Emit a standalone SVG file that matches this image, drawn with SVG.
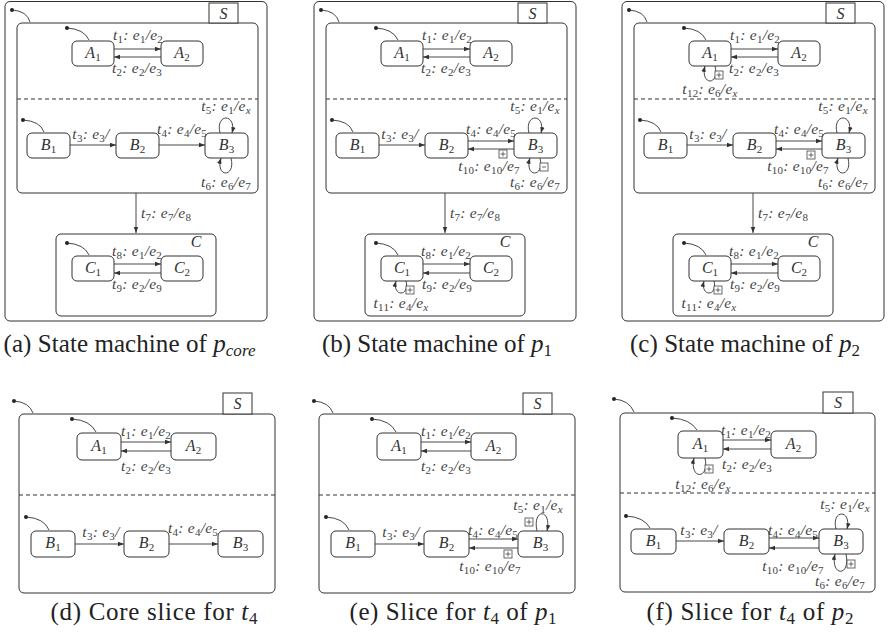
<svg xmlns="http://www.w3.org/2000/svg" xmlns:xlink="http://www.w3.org/1999/xlink" width="888" height="637" viewBox="0 0 888 637">
<style>
.bx{fill:#fff;stroke:#333;stroke-width:1}
.st{fill:#fff;stroke:#333;stroke-width:1}
.ln{fill:none;stroke:#333;stroke-width:0.9}
.ar{fill:none;stroke:#333;stroke-width:0.9;marker-end:url(#ah)}
.dl{fill:none;stroke:#333;stroke-width:1;stroke-dasharray:4,3}
.dot{fill:#222}
.tl{font-family:"Liberation Serif",serif;font-style:italic;font-size:15.5px;letter-spacing:0.25px;fill:#444;text-anchor:middle}
.ls{text-anchor:start}
.sl{font-family:"Liberation Serif",serif;font-style:italic;font-size:16px;fill:#333;text-anchor:middle}
.n{font-style:normal;font-size:11px}
.i{font-style:italic;font-size:11px}
.cap{font-family:"Liberation Serif",serif;font-size:25px;fill:#222;text-anchor:middle}
.cn{font-style:normal;font-size:17px}
.ci{font-style:italic}
.pb{fill:#fff;stroke:#444;stroke-width:0.8}
.pl{fill:none;stroke:#444;stroke-width:0.8}
</style>
<defs>
<marker id="ah" markerUnits="userSpaceOnUse" markerWidth="7" markerHeight="6" refX="6" refY="3" orient="auto"><path d="M0,0.8 L6,3 L0,5.2 z" fill="#333"/></marker>
<g id="plus"><rect class="pb" x="0" y="0" width="8" height="8"/><path class="pl" d="M4,1.5V6.5M1.5,4H6.5"/></g>
<g id="minus"><rect class="pb" x="0" y="0" width="8" height="8"/><path class="pl" d="M2,4H6"/></g>
</defs>
<rect width="888" height="637" fill="#fff"/>

<!-- ===== Panel (a) ===== -->
<g id="panel-a">
<g id="a-frame"><rect class="bx" x="5" y="1.5" width="262" height="319.5" rx="5"/></g>
<g id="a-S"><rect class="bx" x="17" y="23" width="241" height="170" rx="5"/><path class="dl" d="M17,99H258"/><rect class="bx" x="209" y="3" width="29" height="20"/><text class="sl" x="223.5" y="18.5">S</text></g>
<g id="a-A1"><rect class="st" x="72" y="41" width="42" height="25" rx="5"/><text class="sl" x="93" y="58">A<tspan class="n" dy="3">1</tspan></text></g>
<g id="a-A2"><rect class="st" x="161" y="41" width="42" height="25" rx="5"/><text class="sl" x="182" y="58">A<tspan class="n" dy="3">2</tspan></text></g>
<g id="a-B1"><rect class="st" x="27" y="133" width="43" height="25" rx="5"/><text class="sl" x="48.5" y="150">B<tspan class="n" dy="3">1</tspan></text></g>
<g id="a-B2"><rect class="st" x="116" y="133" width="43" height="25" rx="5"/><text class="sl" x="137.5" y="150">B<tspan class="n" dy="3">2</tspan></text></g>
<g id="a-B3"><rect class="st" x="205" y="133" width="43" height="25" rx="5"/><text class="sl" x="226.5" y="150">B<tspan class="n" dy="3">3</tspan></text></g>
<g id="a-C"><rect class="bx" x="56" y="234" width="160" height="82" rx="5"/><text class="sl" x="196" y="247">C</text></g>
<g id="a-C1"><rect class="st" x="72" y="256" width="42" height="25" rx="5"/><text class="sl" x="93" y="273">C<tspan class="n" dy="3">1</tspan></text></g>
<g id="a-C2"><rect class="st" x="161" y="256" width="42" height="25" rx="5"/><text class="sl" x="182" y="273">C<tspan class="n" dy="3">2</tspan></text></g>
<g id="a-edges">
<circle class="dot" cx="12" cy="10" r="2"/><path class="ln" d="M12,10Q27,11 30,22"/>
<circle class="dot" cx="67" cy="28" r="2"/><path class="ln" d="M67,28Q84,29 89,40"/>
<circle class="dot" cx="23" cy="120" r="2"/><path class="ln" d="M23,120Q40,121 44,132"/>
<circle class="dot" cx="67" cy="243" r="2"/><path class="ln" d="M67,243Q84,244 89,255"/>
<path class="ar" d="M114,49H161"/><text class="tl" x="138" y="40">t<tspan class="n" dy="3">1</tspan><tspan dy="-3">: e</tspan><tspan class="n" dy="3">1</tspan><tspan dy="-3">/e</tspan><tspan class="n" dy="3">2</tspan></text>
<path class="ar" d="M161,57H114"/><text class="tl" x="137" y="73">t<tspan class="n" dy="3">2</tspan><tspan dy="-3">: e</tspan><tspan class="n" dy="3">2</tspan><tspan dy="-3">/e</tspan><tspan class="n" dy="3">3</tspan></text>
<path class="ar" d="M70,145H116"/><text class="tl" x="91" y="139">t<tspan class="n" dy="3">3</tspan><tspan dy="-3">: e</tspan><tspan class="n" dy="3">3</tspan><tspan dy="-3">/</tspan></text>
<path class="ar" d="M159,145H205"/><text class="tl" x="182" y="134">t<tspan class="n" dy="3">4</tspan><tspan dy="-3">: e</tspan><tspan class="n" dy="3">4</tspan><tspan dy="-3">/e</tspan><tspan class="n" dy="3">5</tspan></text>
<path class="ar" d="M220,133C215,113 237,113 232,133"/><text class="tl" x="226" y="111">t<tspan class="n" dy="3">5</tspan><tspan dy="-3">: e</tspan><tspan class="n" dy="3">1</tspan><tspan dy="-3">/e</tspan><tspan class="i" dy="3">x</tspan></text>
<path class="ar" d="M231,158C236,178 215,178 221,158"/><text class="tl" x="226" y="187">t<tspan class="n" dy="3">6</tspan><tspan dy="-3">: e</tspan><tspan class="n" dy="3">6</tspan><tspan dy="-3">/e</tspan><tspan class="n" dy="3">7</tspan></text>
<path class="ar" d="M136,193V233"/><text class="tl ls" x="141" y="218">t<tspan class="n" dy="3">7</tspan><tspan dy="-3">: e</tspan><tspan class="n" dy="3">7</tspan><tspan dy="-3">/e</tspan><tspan class="n" dy="3">8</tspan></text>
<path class="ar" d="M114,264H161"/><text class="tl" x="137" y="256">t<tspan class="n" dy="3">8</tspan><tspan dy="-3">: e</tspan><tspan class="n" dy="3">1</tspan><tspan dy="-3">/e</tspan><tspan class="n" dy="3">2</tspan></text>
<path class="ar" d="M161,273H114"/><text class="tl" x="137" y="289">t<tspan class="n" dy="3">9</tspan><tspan dy="-3">: e</tspan><tspan class="n" dy="3">2</tspan><tspan dy="-3">/e</tspan><tspan class="n" dy="3">9</tspan></text>
</g>
<text class="cap" x="129.5" y="352" textLength="252" lengthAdjust="spacing">(a) State machine of <tspan class="ci">p</tspan><tspan class="ci cn" dy="4">core</tspan></text>
</g>

<!-- ===== Panel (b) ===== -->
<g id="panel-b" transform="translate(309,0)">
<g id="b-frame"><rect class="bx" x="5" y="1.5" width="262" height="319.5" rx="5"/></g>
<g id="b-S"><rect class="bx" x="17" y="23" width="241" height="170" rx="5"/><path class="dl" d="M17,99H258"/><rect class="bx" x="209" y="3" width="29" height="20"/><text class="sl" x="223.5" y="18.5">S</text></g>
<g id="b-A1"><rect class="st" x="72" y="41" width="42" height="25" rx="5"/><text class="sl" x="93" y="58">A<tspan class="n" dy="3">1</tspan></text></g>
<g id="b-A2"><rect class="st" x="161" y="41" width="42" height="25" rx="5"/><text class="sl" x="182" y="58">A<tspan class="n" dy="3">2</tspan></text></g>
<g id="b-B1"><rect class="st" x="27" y="133" width="43" height="25" rx="5"/><text class="sl" x="48.5" y="150">B<tspan class="n" dy="3">1</tspan></text></g>
<g id="b-B2"><rect class="st" x="116" y="133" width="43" height="25" rx="5"/><text class="sl" x="137.5" y="150">B<tspan class="n" dy="3">2</tspan></text></g>
<g id="b-B3"><rect class="st" x="205" y="133" width="43" height="25" rx="5"/><text class="sl" x="226.5" y="150">B<tspan class="n" dy="3">3</tspan></text></g>
<g id="b-C"><rect class="bx" x="56" y="234" width="160" height="82" rx="5"/><text class="sl" x="196" y="247">C</text></g>
<g id="b-C1"><rect class="st" x="72" y="256" width="42" height="25" rx="5"/><text class="sl" x="93" y="273">C<tspan class="n" dy="3">1</tspan></text></g>
<g id="b-C2"><rect class="st" x="161" y="256" width="42" height="25" rx="5"/><text class="sl" x="182" y="273">C<tspan class="n" dy="3">2</tspan></text></g>
<g id="b-edges">
<circle class="dot" cx="12" cy="10" r="2"/><path class="ln" d="M12,10Q27,11 30,22"/>
<circle class="dot" cx="67" cy="28" r="2"/><path class="ln" d="M67,28Q84,29 89,40"/>
<circle class="dot" cx="23" cy="120" r="2"/><path class="ln" d="M23,120Q40,121 44,132"/>
<circle class="dot" cx="67" cy="243" r="2"/><path class="ln" d="M67,243Q84,244 89,255"/>
<path class="ar" d="M114,49H161"/><text class="tl" x="138" y="40">t<tspan class="n" dy="3">1</tspan><tspan dy="-3">: e</tspan><tspan class="n" dy="3">1</tspan><tspan dy="-3">/e</tspan><tspan class="n" dy="3">2</tspan></text>
<path class="ar" d="M161,57H114"/><text class="tl" x="137" y="73">t<tspan class="n" dy="3">2</tspan><tspan dy="-3">: e</tspan><tspan class="n" dy="3">2</tspan><tspan dy="-3">/e</tspan><tspan class="n" dy="3">3</tspan></text>
<path class="ar" d="M70,145H116"/><text class="tl" x="91" y="139">t<tspan class="n" dy="3">3</tspan><tspan dy="-3">: e</tspan><tspan class="n" dy="3">3</tspan><tspan dy="-3">/</tspan></text>
<path class="ar" d="M159,141H205"/><text class="tl" x="182" y="134">t<tspan class="n" dy="3">4</tspan><tspan dy="-3">: e</tspan><tspan class="n" dy="3">4</tspan><tspan dy="-3">/e</tspan><tspan class="n" dy="3">5</tspan></text>
<path class="ar" d="M205,149H159"/><use xlink:href="#plus" x="190" y="150"/><text class="tl" x="180" y="171">t<tspan class="n" dy="3">10</tspan><tspan dy="-3">: e</tspan><tspan class="n" dy="3">10</tspan><tspan dy="-3">/e</tspan><tspan class="n" dy="3">7</tspan></text>
<path class="ar" d="M220,133C215,113 237,113 232,133"/><text class="tl" x="226" y="111">t<tspan class="n" dy="3">5</tspan><tspan dy="-3">: e</tspan><tspan class="n" dy="3">1</tspan><tspan dy="-3">/e</tspan><tspan class="i" dy="3">x</tspan></text>
<path class="ar" d="M231,158C236,178 215,178 221,158"/><use xlink:href="#minus" x="231" y="163"/><text class="tl" x="226" y="187">t<tspan class="n" dy="3">6</tspan><tspan dy="-3">: e</tspan><tspan class="n" dy="3">6</tspan><tspan dy="-3">/e</tspan><tspan class="n" dy="3">7</tspan></text>
<path class="ar" d="M136,193V233"/><text class="tl ls" x="141" y="218">t<tspan class="n" dy="3">7</tspan><tspan dy="-3">: e</tspan><tspan class="n" dy="3">7</tspan><tspan dy="-3">/e</tspan><tspan class="n" dy="3">8</tspan></text>
<path class="ar" d="M114,264H161"/><text class="tl" x="137" y="256">t<tspan class="n" dy="3">8</tspan><tspan dy="-3">: e</tspan><tspan class="n" dy="3">1</tspan><tspan dy="-3">/e</tspan><tspan class="n" dy="3">2</tspan></text>
<path class="ar" d="M161,273H114"/><text class="tl" x="138" y="289">t<tspan class="n" dy="3">9</tspan><tspan dy="-3">: e</tspan><tspan class="n" dy="3">2</tspan><tspan dy="-3">/e</tspan><tspan class="n" dy="3">9</tspan></text>
<path class="ar" d="M97,281C101,297 83,297 87,281"/><use xlink:href="#plus" x="97" y="286"/><text class="tl" x="92" y="308">t<tspan class="n" dy="3">11</tspan><tspan dy="-3">: e</tspan><tspan class="n" dy="3">4</tspan><tspan dy="-3">/e</tspan><tspan class="i" dy="3">x</tspan></text>
</g>
<text class="cap" x="128" y="352" textLength="230" lengthAdjust="spacing">(b) State machine of <tspan class="ci">p</tspan><tspan class="cn" dy="4">1</tspan></text>
</g>

<!-- ===== Panel (c) ===== -->
<g id="panel-c" transform="translate(617,0)">
<g id="c-frame"><rect class="bx" x="5" y="1.5" width="262" height="319.5" rx="5"/></g>
<g id="c-S"><rect class="bx" x="17" y="23" width="241" height="170" rx="5"/><path class="dl" d="M17,99H258"/><rect class="bx" x="209" y="3" width="29" height="20"/><text class="sl" x="223.5" y="18.5">S</text></g>
<g id="c-A1"><rect class="st" x="72" y="41" width="42" height="25" rx="5"/><text class="sl" x="93" y="58">A<tspan class="n" dy="3">1</tspan></text></g>
<g id="c-A2"><rect class="st" x="161" y="41" width="42" height="25" rx="5"/><text class="sl" x="182" y="58">A<tspan class="n" dy="3">2</tspan></text></g>
<g id="c-B1"><rect class="st" x="27" y="133" width="43" height="25" rx="5"/><text class="sl" x="48.5" y="150">B<tspan class="n" dy="3">1</tspan></text></g>
<g id="c-B2"><rect class="st" x="116" y="133" width="43" height="25" rx="5"/><text class="sl" x="137.5" y="150">B<tspan class="n" dy="3">2</tspan></text></g>
<g id="c-B3"><rect class="st" x="205" y="133" width="43" height="25" rx="5"/><text class="sl" x="226.5" y="150">B<tspan class="n" dy="3">3</tspan></text></g>
<g id="c-C"><rect class="bx" x="56" y="234" width="160" height="82" rx="5"/><text class="sl" x="196" y="247">C</text></g>
<g id="c-C1"><rect class="st" x="72" y="256" width="42" height="25" rx="5"/><text class="sl" x="93" y="273">C<tspan class="n" dy="3">1</tspan></text></g>
<g id="c-C2"><rect class="st" x="161" y="256" width="42" height="25" rx="5"/><text class="sl" x="182" y="273">C<tspan class="n" dy="3">2</tspan></text></g>
<g id="c-edges">
<circle class="dot" cx="12" cy="10" r="2"/><path class="ln" d="M12,10Q27,11 30,22"/>
<circle class="dot" cx="67" cy="28" r="2"/><path class="ln" d="M67,28Q84,29 89,40"/>
<circle class="dot" cx="23" cy="120" r="2"/><path class="ln" d="M23,120Q40,121 44,132"/>
<circle class="dot" cx="67" cy="243" r="2"/><path class="ln" d="M67,243Q84,244 89,255"/>
<path class="ar" d="M114,49H161"/><text class="tl" x="138" y="40">t<tspan class="n" dy="3">1</tspan><tspan dy="-3">: e</tspan><tspan class="n" dy="3">1</tspan><tspan dy="-3">/e</tspan><tspan class="n" dy="3">2</tspan></text>
<path class="ar" d="M161,57H114"/><text class="tl" x="137" y="73">t<tspan class="n" dy="3">2</tspan><tspan dy="-3">: e</tspan><tspan class="n" dy="3">2</tspan><tspan dy="-3">/e</tspan><tspan class="n" dy="3">3</tspan></text>
<path class="ar" d="M98,66C103,86 83,86 88,66"/><use xlink:href="#plus" x="98" y="71"/><text class="tl" x="93" y="94">t<tspan class="n" dy="3">12</tspan><tspan dy="-3">: e</tspan><tspan class="n" dy="3">6</tspan><tspan dy="-3">/e</tspan><tspan class="i" dy="3">x</tspan></text>
<path class="ar" d="M70,145H116"/><text class="tl" x="91" y="139">t<tspan class="n" dy="3">3</tspan><tspan dy="-3">: e</tspan><tspan class="n" dy="3">3</tspan><tspan dy="-3">/</tspan></text>
<path class="ar" d="M159,141H205"/><text class="tl" x="182" y="134">t<tspan class="n" dy="3">4</tspan><tspan dy="-3">: e</tspan><tspan class="n" dy="3">4</tspan><tspan dy="-3">/e</tspan><tspan class="n" dy="3">5</tspan></text>
<path class="ar" d="M205,149H159"/><use xlink:href="#plus" x="190" y="151"/><text class="tl" x="181" y="171">t<tspan class="n" dy="3">10</tspan><tspan dy="-3">: e</tspan><tspan class="n" dy="3">10</tspan><tspan dy="-3">/e</tspan><tspan class="n" dy="3">7</tspan></text>
<path class="ar" d="M220,133C215,113 237,113 232,133"/><text class="tl" x="226" y="111">t<tspan class="n" dy="3">5</tspan><tspan dy="-3">: e</tspan><tspan class="n" dy="3">1</tspan><tspan dy="-3">/e</tspan><tspan class="i" dy="3">x</tspan></text>
<path class="ar" d="M231,158C236,178 215,178 221,158"/><text class="tl" x="226" y="187">t<tspan class="n" dy="3">6</tspan><tspan dy="-3">: e</tspan><tspan class="n" dy="3">6</tspan><tspan dy="-3">/e</tspan><tspan class="n" dy="3">7</tspan></text>
<path class="ar" d="M136,193V233"/><text class="tl ls" x="141" y="218">t<tspan class="n" dy="3">7</tspan><tspan dy="-3">: e</tspan><tspan class="n" dy="3">7</tspan><tspan dy="-3">/e</tspan><tspan class="n" dy="3">8</tspan></text>
<path class="ar" d="M114,264H161"/><text class="tl" x="137" y="256">t<tspan class="n" dy="3">8</tspan><tspan dy="-3">: e</tspan><tspan class="n" dy="3">1</tspan><tspan dy="-3">/e</tspan><tspan class="n" dy="3">2</tspan></text>
<path class="ar" d="M161,273H114"/><text class="tl" x="138" y="289">t<tspan class="n" dy="3">9</tspan><tspan dy="-3">: e</tspan><tspan class="n" dy="3">2</tspan><tspan dy="-3">/e</tspan><tspan class="n" dy="3">9</tspan></text>
<path class="ar" d="M97,281C101,297 83,297 87,281"/><use xlink:href="#plus" x="97" y="286"/><text class="tl" x="92" y="308">t<tspan class="n" dy="3">11</tspan><tspan dy="-3">: e</tspan><tspan class="n" dy="3">4</tspan><tspan dy="-3">/e</tspan><tspan class="i" dy="3">x</tspan></text>
</g>
<text class="cap" x="128" y="352" textLength="230" lengthAdjust="spacing">(c) State machine of <tspan class="ci">p</tspan><tspan class="cn" dy="4">2</tspan></text>
</g>

<!-- ===== Panel (d) ===== -->
<g id="panel-d">
<g id="d-S"><rect class="bx" x="19" y="414" width="256" height="179" rx="5"/><path class="dl" d="M19,495H275"/><rect class="bx" x="223" y="393" width="29" height="21"/><text class="sl" x="237.5" y="409">S</text></g>
<g id="d-A1"><rect class="st" x="77" y="433" width="44" height="27" rx="5"/><text class="sl" x="99" y="451">A<tspan class="n" dy="3">1</tspan></text></g>
<g id="d-A2"><rect class="st" x="171" y="433" width="45" height="27" rx="5"/><text class="sl" x="193.5" y="451">A<tspan class="n" dy="3">2</tspan></text></g>
<g id="d-B1"><rect class="st" x="31" y="531" width="44" height="26" rx="5"/><text class="sl" x="53" y="548">B<tspan class="n" dy="3">1</tspan></text></g>
<g id="d-B2"><rect class="st" x="124" y="531" width="45" height="26" rx="5"/><text class="sl" x="146.5" y="548">B<tspan class="n" dy="3">2</tspan></text></g>
<g id="d-B3"><rect class="st" x="218" y="531" width="45" height="26" rx="5"/><text class="sl" x="240.5" y="548">B<tspan class="n" dy="3">3</tspan></text></g>
<g id="d-edges">
<circle class="dot" cx="14" cy="401" r="2"/><path class="ln" d="M14,401Q29,402 33,413"/>
<circle class="dot" cx="72" cy="419" r="2"/><path class="ln" d="M72,419Q90,420 96,432"/>
<circle class="dot" cx="26" cy="517" r="2"/><path class="ln" d="M26,517Q44,518 49,530"/>
<path class="ar" d="M121,442H171"/><text class="tl" x="146" y="436">t<tspan class="n" dy="3">1</tspan><tspan dy="-3">: e</tspan><tspan class="n" dy="3">1</tspan><tspan dy="-3">/e</tspan><tspan class="n" dy="3">2</tspan></text>
<path class="ar" d="M171,451H121"/><text class="tl" x="146" y="471">t<tspan class="n" dy="3">2</tspan><tspan dy="-3">: e</tspan><tspan class="n" dy="3">2</tspan><tspan dy="-3">/e</tspan><tspan class="n" dy="3">3</tspan></text>
<path class="ar" d="M75,544H124"/><text class="tl" x="101" y="537">t<tspan class="n" dy="3">3</tspan><tspan dy="-3">: e</tspan><tspan class="n" dy="3">3</tspan><tspan dy="-3">/</tspan></text>
<path class="ar" d="M169,544H218"/><text class="tl" x="193" y="533">t<tspan class="n" dy="3">4</tspan><tspan dy="-3">: e</tspan><tspan class="n" dy="3">4</tspan><tspan dy="-3">/e</tspan><tspan class="n" dy="3">5</tspan></text>
</g>
<text class="cap" x="154" y="620" textLength="207" lengthAdjust="spacing">(d) Core slice for <tspan class="ci">t</tspan><tspan class="cn" dy="4">4</tspan></text>
</g>

<!-- ===== Panel (e) ===== -->
<g id="panel-e" transform="translate(300,0)">
<g id="e-S"><rect class="bx" x="19" y="414" width="256" height="179" rx="5"/><path class="dl" d="M19,495H275"/><rect class="bx" x="223" y="393" width="29" height="21"/><text class="sl" x="237.5" y="409">S</text></g>
<g id="e-A1"><rect class="st" x="77" y="433" width="44" height="27" rx="5"/><text class="sl" x="99" y="451">A<tspan class="n" dy="3">1</tspan></text></g>
<g id="e-A2"><rect class="st" x="171" y="433" width="45" height="27" rx="5"/><text class="sl" x="193.5" y="451">A<tspan class="n" dy="3">2</tspan></text></g>
<g id="e-B1"><rect class="st" x="31" y="531" width="44" height="26" rx="5"/><text class="sl" x="53" y="548">B<tspan class="n" dy="3">1</tspan></text></g>
<g id="e-B2"><rect class="st" x="124" y="531" width="45" height="26" rx="5"/><text class="sl" x="146.5" y="548">B<tspan class="n" dy="3">2</tspan></text></g>
<g id="e-B3"><rect class="st" x="218" y="531" width="45" height="26" rx="5"/><text class="sl" x="240.5" y="548">B<tspan class="n" dy="3">3</tspan></text></g>
<g id="e-edges">
<circle class="dot" cx="14" cy="401" r="2"/><path class="ln" d="M14,401Q29,402 33,413"/>
<circle class="dot" cx="72" cy="419" r="2"/><path class="ln" d="M72,419Q90,420 96,432"/>
<circle class="dot" cx="26" cy="517" r="2"/><path class="ln" d="M26,517Q44,518 49,530"/>
<path class="ar" d="M121,442H171"/><text class="tl" x="146" y="436">t<tspan class="n" dy="3">1</tspan><tspan dy="-3">: e</tspan><tspan class="n" dy="3">1</tspan><tspan dy="-3">/e</tspan><tspan class="n" dy="3">2</tspan></text>
<path class="ar" d="M171,451H121"/><text class="tl" x="146" y="471">t<tspan class="n" dy="3">2</tspan><tspan dy="-3">: e</tspan><tspan class="n" dy="3">2</tspan><tspan dy="-3">/e</tspan><tspan class="n" dy="3">3</tspan></text>
<path class="ar" d="M75,544H124"/><text class="tl" x="101" y="537">t<tspan class="n" dy="3">3</tspan><tspan dy="-3">: e</tspan><tspan class="n" dy="3">3</tspan><tspan dy="-3">/</tspan></text>
<path class="ar" d="M169,539H218"/><text class="tl" x="193" y="535">t<tspan class="n" dy="3">4</tspan><tspan dy="-3">: e</tspan><tspan class="n" dy="3">4</tspan><tspan dy="-3">/e</tspan><tspan class="n" dy="3">5</tspan></text>
<path class="ar" d="M218,548H169"/><use xlink:href="#plus" x="204" y="550"/><text class="tl" x="190" y="571">t<tspan class="n" dy="3">10</tspan><tspan dy="-3">: e</tspan><tspan class="n" dy="3">10</tspan><tspan dy="-3">/e</tspan><tspan class="n" dy="3">7</tspan></text>
<path class="ar" d="M237,531C232,508 252,508 247,531"/><use xlink:href="#plus" x="225" y="518"/><text class="tl" x="238" y="510">t<tspan class="n" dy="3">5</tspan><tspan dy="-3">: e</tspan><tspan class="n" dy="3">1</tspan><tspan dy="-3">/e</tspan><tspan class="i" dy="3">x</tspan></text>
</g>
<text class="cap" x="153" y="620" textLength="207" lengthAdjust="spacing">(e) Slice for <tspan class="ci">t</tspan><tspan class="cn" dy="4">4</tspan><tspan dy="-4"> of </tspan><tspan class="ci">p</tspan><tspan class="cn" dy="4">1</tspan></text>
</g>

<!-- ===== Panel (f) ===== -->
<g id="panel-f">
<g id="f-S"><rect class="bx" x="620" y="413" width="255" height="179" rx="5"/><path class="dl" d="M620,493H875"/><rect class="bx" x="823" y="392" width="30" height="21"/><text class="sl" x="838" y="408">S</text></g>
<g id="f-A1"><rect class="st" x="678" y="431" width="45" height="27" rx="5"/><text class="sl" x="700.5" y="449">A<tspan class="n" dy="3">1</tspan></text></g>
<g id="f-A2"><rect class="st" x="771" y="431" width="45" height="27" rx="5"/><text class="sl" x="793.5" y="449">A<tspan class="n" dy="3">2</tspan></text></g>
<g id="f-B1"><rect class="st" x="631" y="529" width="45" height="25" rx="5"/><text class="sl" x="653.5" y="546">B<tspan class="n" dy="3">1</tspan></text></g>
<g id="f-B2"><rect class="st" x="724" y="529" width="45" height="25" rx="5"/><text class="sl" x="746.5" y="546">B<tspan class="n" dy="3">2</tspan></text></g>
<g id="f-B3"><rect class="st" x="819" y="529" width="44" height="25" rx="5"/><text class="sl" x="841" y="546">B<tspan class="n" dy="3">3</tspan></text></g>
<g id="f-edges">
<circle class="dot" cx="614" cy="399" r="2"/><path class="ln" d="M614,399Q629,400 634,412"/>
<circle class="dot" cx="672" cy="418" r="2"/><path class="ln" d="M672,418Q690,419 697,430"/>
<circle class="dot" cx="626" cy="516" r="2"/><path class="ln" d="M626,516Q644,517 650,528"/>
<path class="ar" d="M723,440H771"/><text class="tl" x="746" y="435">t<tspan class="n" dy="3">1</tspan><tspan dy="-3">: e</tspan><tspan class="n" dy="3">1</tspan><tspan dy="-3">/e</tspan><tspan class="n" dy="3">2</tspan></text>
<path class="ar" d="M771,449H723"/><text class="tl" x="747" y="469">t<tspan class="n" dy="3">2</tspan><tspan dy="-3">: e</tspan><tspan class="n" dy="3">2</tspan><tspan dy="-3">/e</tspan><tspan class="n" dy="3">3</tspan></text>
<path class="ar" d="M705,458C710,480 689,480 694,458"/><use xlink:href="#plus" x="705" y="465"/><text class="tl" x="703" y="489">t<tspan class="n" dy="3">12</tspan><tspan dy="-3">: e</tspan><tspan class="n" dy="3">6</tspan><tspan dy="-3">/e</tspan><tspan class="i" dy="3">x</tspan></text>
<path class="ar" d="M676,541H724"/><text class="tl" x="699" y="535">t<tspan class="n" dy="3">3</tspan><tspan dy="-3">: e</tspan><tspan class="n" dy="3">3</tspan><tspan dy="-3">/</tspan></text>
<path class="ar" d="M769,538H819"/><text class="tl" x="793" y="535">t<tspan class="n" dy="3">4</tspan><tspan dy="-3">: e</tspan><tspan class="n" dy="3">4</tspan><tspan dy="-3">/e</tspan><tspan class="n" dy="3">5</tspan></text>
<path class="ar" d="M819,548H769"/><text class="tl" x="793" y="571">t<tspan class="n" dy="3">10</tspan><tspan dy="-3">: e</tspan><tspan class="n" dy="3">10</tspan><tspan dy="-3">/e</tspan><tspan class="n" dy="3">7</tspan></text>
<path class="ar" d="M836,529C831,509 852,509 847,529"/><text class="tl" x="845" y="509">t<tspan class="n" dy="3">5</tspan><tspan dy="-3">: e</tspan><tspan class="n" dy="3">1</tspan><tspan dy="-3">/e</tspan><tspan class="i" dy="3">x</tspan></text>
<path class="ar" d="M846,554C851,577 830,577 835,554"/><use xlink:href="#plus" x="847" y="560"/><text class="tl" x="840" y="586">t<tspan class="n" dy="3">6</tspan><tspan dy="-3">: e</tspan><tspan class="n" dy="3">6</tspan><tspan dy="-3">/e</tspan><tspan class="n" dy="3">7</tspan></text>
</g>
<text class="cap" x="750" y="620" textLength="207" lengthAdjust="spacing">(f) Slice for <tspan class="ci">t</tspan><tspan class="cn" dy="4">4</tspan><tspan dy="-4"> of </tspan><tspan class="ci">p</tspan><tspan class="cn" dy="4">2</tspan></text>
</g>
</svg>
